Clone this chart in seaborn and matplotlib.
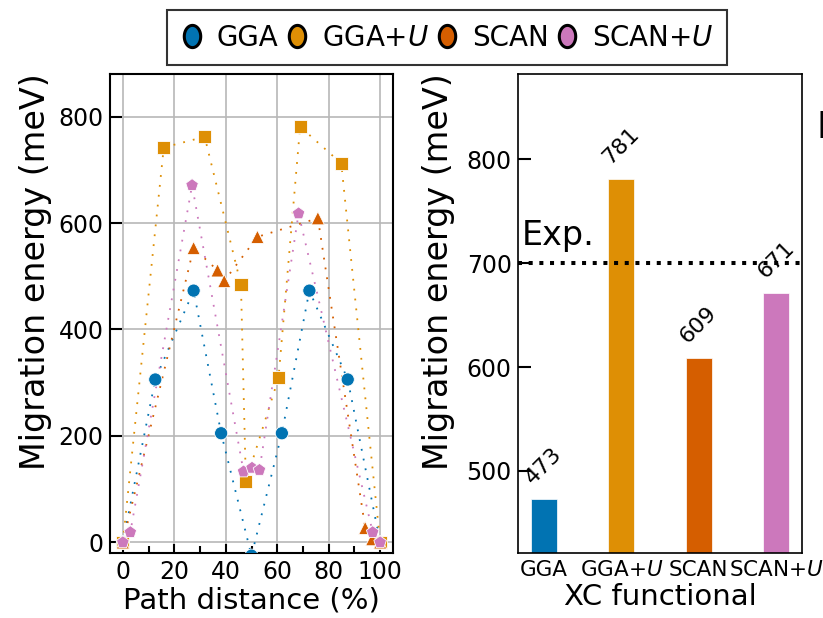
import numpy as np
import pandas as pd
import matplotlib
matplotlib.use("Agg")
import matplotlib.pyplot as plt
import seaborn as sns
from matplotlib.lines import Line2D
from matplotlib.path import Path
from matplotlib.ticker import MultipleLocator

# ---------------- data ----------------
functionals = ["GGA", "GGA+U", "SCAN", "SCAN+U"]
func_labels = ["GGA", "GGA+$U$", "SCAN", "SCAN+$U$"]
colors = ["#0173B2", "#DE8F05", "#D55E00", "#CC78BC"]
markers = ["o", "s", "^", "p"]

path_gga = [0, 12.6, 27.5, 38.2, 50, 61.8, 72.5, 87.4, 100]
e_gga = [0, 306, 473, 205, -25, 205, 473, 306, 0]

path_ggau = [0, 15.9, 31.8, 45.9, 47.8, 60.5, 68.9, 84.9, 100]
e_ggau = [0, 742, 762, 484, 114, 309, 781, 712, 0]

path_scan = [0, 27.5, 36.8, 39.4, 52.3, 75.8, 94.2, 96.9, 100]
e_scan = [0, 553, 511, 491, 574, 609, 27, 6, 0]

path_scanu = [0, 2.9, 26.9, 46.9, 50.2, 53.1, 68.3, 97.1, 100]
e_scanu = [0, 19, 671, 133, 140, 136, 618, 19, 0]

barrier = [473, 781, 609, 671]
exp_barrier = 700

paths = [path_gga, path_ggau, path_scan, path_scanu]
energies = [e_gga, e_ggau, e_scan, e_scanu]

df = pd.concat(
    [pd.DataFrame({"path": p, "energy": e, "func": f})
     for p, e, f in zip(paths, energies, functionals)],
    ignore_index=True)

# ---------------- style ----------------
sns.set_theme(style="ticks")
plt.rcParams["font.family"] = ["DejaVu Sans"]
plt.rcParams["mathtext.fontset"] = "dejavusans"
for k in ["text.color", "axes.labelcolor", "xtick.color", "ytick.color",
          "xtick.labelcolor", "ytick.labelcolor"]:
    plt.rcParams[k] = "black"

fig = plt.figure(figsize=(8.23, 6.18), dpi=100)
ax1 = fig.add_axes([110 / 823, 1 - 553 / 618, 283 / 823, 479 / 618])
ax2 = fig.add_axes([518 / 823, 1 - 553 / 618, 284 / 823, 479 / 618])

# ---------------- left panel ----------------
ax1.grid(True, color="#b8b8b8", lw=1.2)
ax1.set_axisbelow(True)
for p, e, c in zip(paths, energies, colors):
    sns.lineplot(x=p, y=e, ax=ax1, color=c, sort=False, estimator=None,
                 lw=1.3, linestyle=(0, (1, 4.5)), zorder=2)

sns.scatterplot(data=df, x="path", y="energy", hue="func", style="func",
                hue_order=functionals, style_order=functionals,
                palette=dict(zip(functionals, colors)),
                markers=dict(zip(functionals, markers)),
                s=90, edgecolor="white", linewidth=0.6, legend=False,
                ax=ax1, zorder=3)

ax1.set_xlim(-5, 105)
ax1.set_ylim(-20, 880)
ax1.set_xticks([0, 20, 40, 60, 80, 100])
ax1.set_yticks([0, 200, 400, 600, 800])
ax1.xaxis.set_minor_locator(MultipleLocator(10))
ax1.tick_params(axis="both", which="both", direction="in", labelsize=17,
                width=1.5, color="black")
ax1.tick_params(axis="y", which="major", length=8.5, pad=4.5)
ax1.tick_params(axis="x", which="major", length=6.5, pad=5)
ax1.tick_params(axis="x", which="minor", length=5)
for sp in ax1.spines.values():
    sp.set_color("black")
    sp.set_linewidth(1.5)
ax1.set_xlabel("Path distance (%)", fontsize=21, labelpad=2)
ax1.set_ylabel("Migration energy (meV)", fontsize=24)
ax1.yaxis.set_label_coords(-0.205, 0.587)

# ---------------- right panel ----------------
sns.barplot(x=func_labels, y=barrier, hue=func_labels,
            palette=colors, saturation=1, width=0.333, legend=False,
            edgecolor="white", linewidth=0.5, ax=ax2)
ax2.axhline(exp_barrier, color="black", ls=":", lw=2.9, zorder=3)
ax2.text(-0.28, 717, "Exp.", fontsize=24, va="baseline", ha="left")
for cont in ax2.containers:
    ax2.bar_label(cont, fmt="%d", rotation=45, padding=8, fontsize=16)
ax2.set_xlim(-1 / 3, 3 + 1 / 3)
ax2.set_ylim(421, 882)
ax2.set_yticks([500, 600, 700, 800])
ax2.tick_params(axis="y", direction="in", length=9, width=1.5,
                labelsize=17, pad=4.5, color="black")
ax2.tick_params(axis="x", length=0, labelsize=15.5, pad=5)
for sp in ax2.spines.values():
    sp.set_color("black")
    sp.set_linewidth(1.2)
ax2.set_xlabel("XC functional", fontsize=21, labelpad=2)
ax2.set_ylabel("Migration energy (meV)", fontsize=24)
ax2.yaxis.set_label_coords(-0.222, 0.587)

# ---------------- legend ----------------
theta = np.linspace(0, 2 * np.pi, 60)
oval = Path(np.column_stack([0.74 * np.cos(theta), np.sin(theta)]),
            closed=True)
handles = [Line2D([], [], ls="none", marker=oval, ms=16, mfc=c, mec="black",
                  mew=2.2) for c in colors]
leg = fig.legend(handles, func_labels, loc="center",
                 bbox_to_anchor=(447 / 823, 1 - 37.5 / 618), ncol=4,
                 fontsize=20, frameon=True, fancybox=False,
                 handlelength=0.8, handletextpad=0.5, columnspacing=0.25,
                 borderpad=0.5, borderaxespad=0)
leg.get_frame().set_edgecolor("black")
leg.get_frame().set_linewidth(1.5)

# cut-off label of the neighbouring panel (cropped in the reference)
fig.text(817 / 823, 1 - 138 / 618, "N", fontsize=27, fontweight="bold",
         ha="left", va="baseline")

fig.savefig("out.png", dpi=100)
